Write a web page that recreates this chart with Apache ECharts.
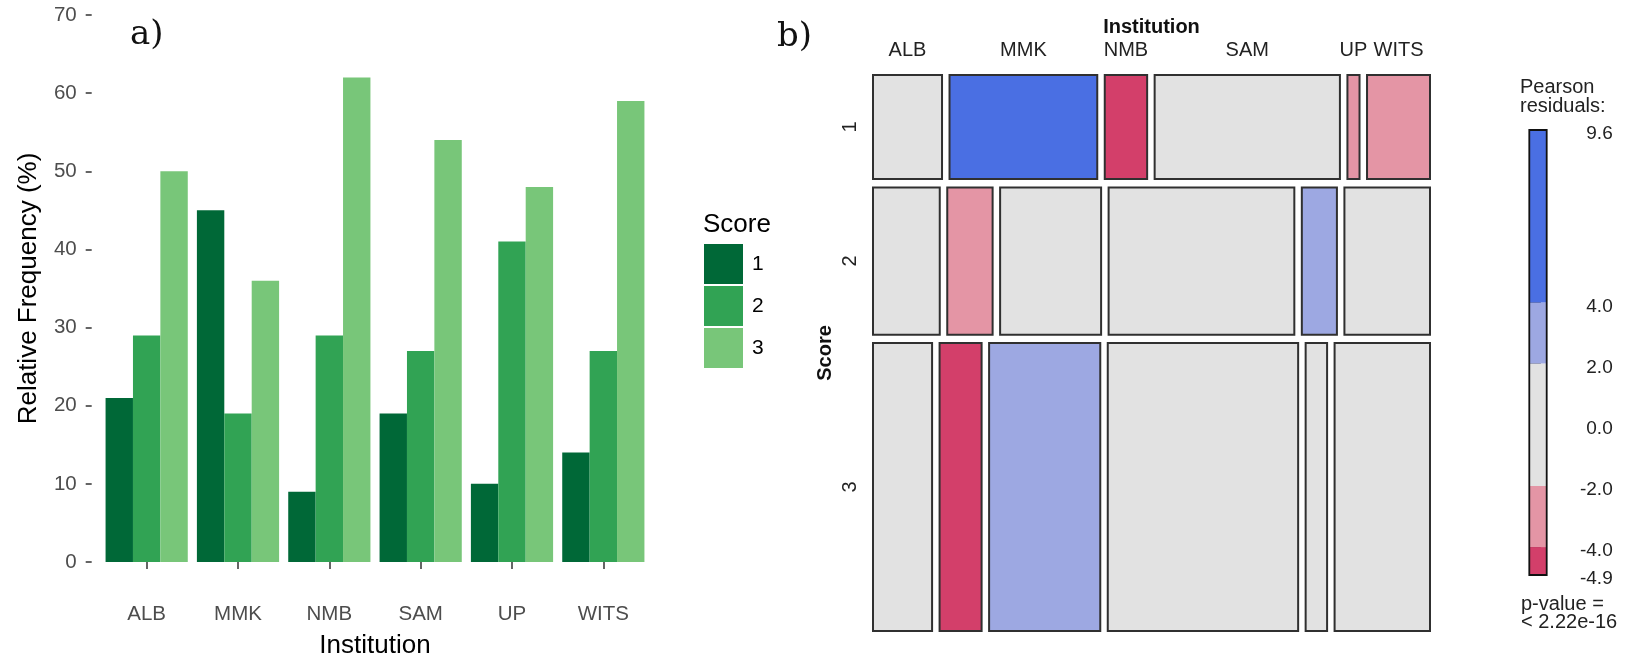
<!DOCTYPE html>
<html>
<head>
<meta charset="utf-8">
<script src="https://cdn.jsdelivr.net/npm/echarts@6/dist/echarts.min.js"></script>
<style>
  html, body { margin: 0; padding: 0; background: #ffffff; }
  #chart { width: 1625px; height: 664px; }
</style>
</head>
<body>
<div id="chart"></div>
<script>
// ---- Panel a: relative frequency (%) of each score within each institution ----
const institutions = ['ALB', 'MMK', 'NMB', 'SAM', 'UP', 'WITS'];
const scores = ['1', '2', '3'];
const freqScore1 = [21, 45, 9, 19, 10, 14];
const freqScore2 = [29, 19, 29, 27, 41, 27];
const freqScore3 = [50, 36, 62, 54, 48, 59];
const scoreColors = ['#006837', '#31a354', '#78c679'];

// ---- Panel b: student counts per score (rows) and institution (columns) ----
const countsScore1 = [57, 122, 35, 153, 10, 52];
const countsScore2 = [78, 53, 118, 217, 41, 100];
const countsScore3 = [135, 96, 254, 435, 49, 218];

// Shading of Pearson residuals (hcl palette) and its interval breaks
const residualBreaks = [-4, -2, 2, 4];
const shadeColors = ['#D33F6A', '#E495A5', '#E2E2E2', '#9DA8E2', '#4A6FE3'];
const residualTickValues = [4, 2, 0, -2, -4];
const pValueLines = ['p-value =', '< 2.22e-16'];

const SANS = '"Liberation Sans", Arial, sans-serif';
const SERIF = '"DejaVu Serif", "Liberation Serif", serif';

// ---- Derived quantities for the mosaic ----
const counts = [countsScore1, countsScore2, countsScore3];
const rowTotals = counts.map(r => r.reduce((a, b) => a + b, 0));
const colTotals = institutions.map((_, j) => counts.reduce((a, r) => a + r[j], 0));
const grandTotal = rowTotals.reduce((a, b) => a + b, 0);
const residuals = counts.map((r, i) => r.map((o, j) => {
  const e = rowTotals[i] * colTotals[j] / grandTotal;
  return (o - e) / Math.sqrt(e);
}));
const allResiduals = residuals.flat();
const resMin = Math.min(...allResiduals);
const resMax = Math.max(...allResiduals);

function shade(r) {
  let k = 0;
  while (k < residualBreaks.length && r > residualBreaks[k]) k++;
  return shadeColors[k];
}

const rowStart = [];
{ let acc = 0; rowTotals.forEach(t => { rowStart.push(acc); acc += t; }); }
const colStart = counts.map(r => { const out = []; let a = 0; r.forEach(c => { out.push(a); a += c; }); return out; });

const mosaicCells = [];
scores.forEach((s, i) => institutions.forEach((inst, j) => mosaicCells.push([i, j])));

const GAP_X = 7.5, GAP_Y = 8.3;

function renderMosaicCell(params, api) {
  const i = api.value(0), j = api.value(1);
  const tl = api.coord([0, 0]);
  const br = api.coord([1, 1]);
  const W = br[0] - tl[0], H = br[1] - tl[1];
  const availW = W - GAP_X * (institutions.length - 1);
  const availH = H - GAP_Y * (scores.length - 1);
  const y = tl[1] + availH * rowStart[i] / grandTotal + i * GAP_Y;
  const h = availH * rowTotals[i] / grandTotal;
  const x = tl[0] + availW * colStart[i][j] / rowTotals[i] + j * GAP_X;
  const w = availW * counts[i][j] / rowTotals[i];
  const children = [{
    type: 'rect',
    shape: { x: x, y: y, width: w, height: h },
    style: { fill: shade(residuals[i][j]), stroke: '#303030', lineWidth: 2 }
  }];
  if (i === 0) {
    children.push({
      type: 'text', x: x + w / 2, y: tl[1] - 25,
      style: { text: institutions[j], fontSize: 20, fontFamily: SANS, fill: '#222',
               align: 'center', verticalAlign: 'middle' }
    });
  }
  if (j === 0) {
    children.push({
      type: 'text', x: tl[0] - 23, y: y + h / 2, rotation: Math.PI / 2,
      style: { text: scores[i], fontSize: 20, fontFamily: SANS, fill: '#222',
               align: 'center', verticalAlign: 'middle' }
    });
  }
  return { type: 'group', children: children };
}

// ---- Colour bar segments for the residual legend ----
const barEdges = [resMin, ...residualBreaks, resMax];
const barSegments = [];
for (let k = 0; k < shadeColors.length; k++) barSegments.push([barEdges[k], barEdges[k + 1], k]);

function renderBarSegment(params, api) {
  const top = api.coord([0, api.value(1)]);
  const bot = api.coord([1, api.value(0)]);
  return {
    type: 'rect',
    shape: { x: top[0], y: top[1], width: bot[0] - top[0], height: bot[1] - top[1] },
    style: { fill: shadeColors[api.value(2)] }
  };
}
function renderBarOutline(params, api) {
  const top = api.coord([0, api.value(1)]);
  const bot = api.coord([1, api.value(0)]);
  return {
    type: 'rect',
    shape: { x: top[0], y: top[1], width: bot[0] - top[0], height: bot[1] - top[1] },
    style: { fill: 'none', stroke: '#111', lineWidth: 1.8 }
  };
}

const legendTicks = [resMax, ...residualTickValues, resMin];

const chart = echarts.init(document.getElementById('chart'), null, { renderer: 'canvas' });

chart.setOption({
  backgroundColor: '#ffffff',
  animation: false,
  textStyle: { fontFamily: SANS },
  grid: [
    { left: 101, top: 15, width: 548, height: 549 },
    { left: 873, top: 75, width: 557, height: 556 },
    { left: 1529.3, top: 130, width: 17.4, height: 445 }
  ],
  legend: {
    orient: 'vertical', left: 704, top: 244, padding: 0,
    itemWidth: 39, itemHeight: 40, itemGap: 2, icon: 'rect',
    data: scores,
    textStyle: { fontSize: 21, color: '#000', fontFamily: SANS, padding: [8, 0, 0, 4] }
  },
  xAxis: [
    {
      gridIndex: 0, type: 'category', data: institutions, offset: 28,
      axisLine: { show: false },
      axisTick: { show: true, alignWithLabel: true, length: 7, lineStyle: { color: '#333', width: 1.5 } },
      axisLabel: { fontSize: 20.5, color: '#4D4D4D', margin: 14, fontFamily: SANS },
      name: 'Institution', nameLocation: 'middle', nameGap: 43,
      nameTextStyle: { fontSize: 26, color: '#000', fontFamily: SANS },
      splitLine: { show: false }
    },
    { gridIndex: 1, type: 'value', min: 0, max: 1, show: false },
    { gridIndex: 2, type: 'value', min: 0, max: 1, show: false }
  ],
  yAxis: [
    {
      gridIndex: 0, type: 'value', min: 0, max: 70, interval: 10, offset: 9.3,
      axisLine: { show: false },
      axisTick: { show: true, length: 6, lineStyle: { color: '#333', width: 1.5 } },
      axisLabel: { fontSize: 20.5, color: '#4D4D4D', margin: 15, fontFamily: SANS },
      splitLine: { show: false },
      name: 'Relative Frequency (%)', nameLocation: 'middle', nameGap: 50,
      nameTextStyle: { fontSize: 26, color: '#000', fontFamily: SANS }
    },
    { gridIndex: 1, type: 'value', min: 0, max: 1, inverse: true, show: false },
    {
      gridIndex: 2, type: 'value', min: resMin, max: resMax, position: 'right',
      axisLine: { show: false },
      axisTick: { show: true, length: 11.6, customValues: legendTicks, lineStyle: { color: '#111', width: 1.5 } },
      axisLabel: {
        customValues: legendTicks, formatter: v => v.toFixed(1),
        align: 'right', verticalAlign: 'top', lineHeight: 8,
        margin: 66, fontSize: 19, color: '#222', fontFamily: SANS
      },
      splitLine: { show: false }
    }
  ],
  series: [
    { type: 'bar', name: scores[0], data: freqScore1, xAxisIndex: 0, yAxisIndex: 0,
      itemStyle: { color: scoreColors[0] }, barGap: '0%', barCategoryGap: '10%' },
    { type: 'bar', name: scores[1], data: freqScore2, xAxisIndex: 0, yAxisIndex: 0,
      itemStyle: { color: scoreColors[1] }, barGap: '0%', barCategoryGap: '10%' },
    { type: 'bar', name: scores[2], data: freqScore3, xAxisIndex: 0, yAxisIndex: 0,
      itemStyle: { color: scoreColors[2] }, barGap: '0%', barCategoryGap: '10%' },
    { type: 'custom', xAxisIndex: 1, yAxisIndex: 1, data: mosaicCells,
      renderItem: renderMosaicCell, silent: true },
    { type: 'custom', xAxisIndex: 2, yAxisIndex: 2, data: barSegments,
      renderItem: renderBarSegment, silent: true },
    { type: 'custom', xAxisIndex: 2, yAxisIndex: 2, data: [[resMin, resMax]],
      renderItem: renderBarOutline, silent: true, z: 3 }
  ],
  graphic: [
    { type: 'text', left: 130, top: 18,
      style: { text: 'a)', fontSize: 34, fontFamily: SERIF, fill: '#111' } },
    { type: 'text', left: 777, top: 20,
      style: { text: 'b)', fontSize: 34, fontFamily: SERIF, fill: '#111' } },
    { type: 'text', x: 703, y: 225,
      style: { text: 'Score', fontSize: 26, fontFamily: SANS, fill: '#000', verticalAlign: 'middle' } },
    { type: 'text', x: 1151.5, y: 27,
      style: { text: 'Institution', fontSize: 20, fontWeight: 'bold', fontFamily: SANS, fill: '#111',
               align: 'center', verticalAlign: 'middle' } },
    { type: 'text', x: 825, y: 353, rotation: Math.PI / 2,
      style: { text: 'Score', fontSize: 20, fontWeight: 'bold', fontFamily: SANS, fill: '#111',
               align: 'center', verticalAlign: 'middle' } },
    { type: 'text', x: 1520, y: 97,
      style: { text: 'Pearson\nresiduals:', fontSize: 20, lineHeight: 18.4, fontFamily: SANS, fill: '#222',
               verticalAlign: 'middle' } },
    { type: 'text', x: 1521, y: 613,
      style: { text: pValueLines.join('\n'), fontSize: 20, lineHeight: 18, fontFamily: SANS, fill: '#222',
               verticalAlign: 'middle' } }
  ]
});
</script>
</body>
</html>
